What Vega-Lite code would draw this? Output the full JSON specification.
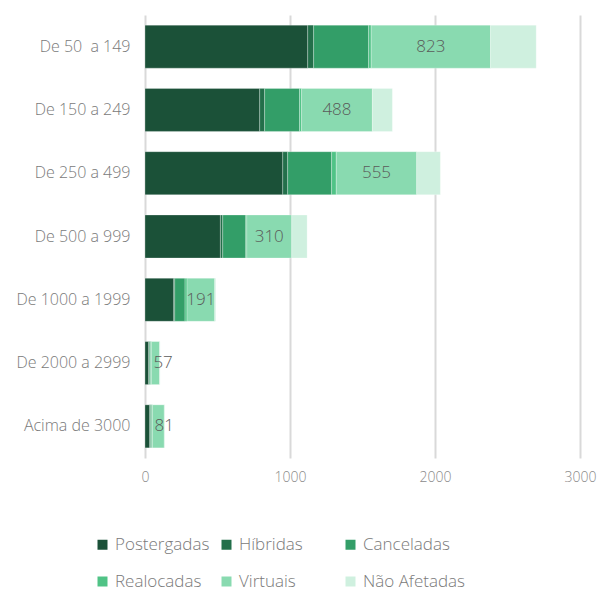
{
  "$schema": "https://vega.github.io/schema/vega-lite/v6.json",
  "width": 435,
  "height": 443,
  "autosize": {"type": "none"},
  "padding": {"left": 145, "top": 15, "right": 20, "bottom": 132},
  "background": "white",
  "config": {
    "view": {"stroke": null},
    "font": "Open Sans"
  },
  "data": {
    "values": [
      {"cat": "De 50\u00a0 a 149", "tipo": "Postergadas", "v": 1122},
      {"cat": "De 50\u00a0 a 149", "tipo": "Híbridas", "v": 41},
      {"cat": "De 50\u00a0 a 149", "tipo": "Canceladas", "v": 379},
      {"cat": "De 50\u00a0 a 149", "tipo": "Realocadas", "v": 18},
      {"cat": "De 50\u00a0 a 149", "tipo": "Virtuais", "v": 823},
      {"cat": "De 50\u00a0 a 149", "tipo": "Não Afetadas", "v": 315},
      {"cat": "De 150 a 249", "tipo": "Postergadas", "v": 791},
      {"cat": "De 150 a 249", "tipo": "Híbridas", "v": 34},
      {"cat": "De 150 a 249", "tipo": "Canceladas", "v": 241},
      {"cat": "De 150 a 249", "tipo": "Realocadas", "v": 14},
      {"cat": "De 150 a 249", "tipo": "Virtuais", "v": 488},
      {"cat": "De 150 a 249", "tipo": "Não Afetadas", "v": 138},
      {"cat": "De 250 a 499", "tipo": "Postergadas", "v": 950},
      {"cat": "De 250 a 499", "tipo": "Híbridas", "v": 34},
      {"cat": "De 250 a 499", "tipo": "Canceladas", "v": 303},
      {"cat": "De 250 a 499", "tipo": "Realocadas", "v": 32},
      {"cat": "De 250 a 499", "tipo": "Virtuais", "v": 555},
      {"cat": "De 250 a 499", "tipo": "Não Afetadas", "v": 163},
      {"cat": "De 500 a 999", "tipo": "Postergadas", "v": 520},
      {"cat": "De 500 a 999", "tipo": "Híbridas", "v": 16},
      {"cat": "De 500 a 999", "tipo": "Canceladas", "v": 159},
      {"cat": "De 500 a 999", "tipo": "Realocadas", "v": 7},
      {"cat": "De 500 a 999", "tipo": "Virtuais", "v": 310},
      {"cat": "De 500 a 999", "tipo": "Não Afetadas", "v": 106},
      {"cat": "De 1000 a 1999", "tipo": "Postergadas", "v": 198},
      {"cat": "De 1000 a 1999", "tipo": "Híbridas", "v": 7},
      {"cat": "De 1000 a 1999", "tipo": "Canceladas", "v": 71},
      {"cat": "De 1000 a 1999", "tipo": "Realocadas", "v": 14},
      {"cat": "De 1000 a 1999", "tipo": "Virtuais", "v": 191},
      {"cat": "De 1000 a 1999", "tipo": "Não Afetadas", "v": 7},
      {"cat": "De 2000 a 2999", "tipo": "Postergadas", "v": 25},
      {"cat": "De 2000 a 2999", "tipo": "Híbridas", "v": 5},
      {"cat": "De 2000 a 2999", "tipo": "Canceladas", "v": 8},
      {"cat": "De 2000 a 2999", "tipo": "Realocadas", "v": 6},
      {"cat": "De 2000 a 2999", "tipo": "Virtuais", "v": 57},
      {"cat": "De 2000 a 2999", "tipo": "Não Afetadas", "v": 3},
      {"cat": "Acima de 3000", "tipo": "Postergadas", "v": 32},
      {"cat": "Acima de 3000", "tipo": "Híbridas", "v": 6},
      {"cat": "Acima de 3000", "tipo": "Canceladas", "v": 8},
      {"cat": "Acima de 3000", "tipo": "Realocadas", "v": 6},
      {"cat": "Acima de 3000", "tipo": "Virtuais", "v": 81},
      {"cat": "Acima de 3000", "tipo": "Não Afetadas", "v": 5}
    ]
  },
  "transform": [
    {"calculate": "indexof(['Postergadas','Híbridas','Canceladas','Realocadas','Virtuais','Não Afetadas'], datum.tipo)", "as": "ord"},
    {"stack": "v", "groupby": ["cat"], "sort": [{"field": "ord", "order": "ascending"}], "as": ["x0", "x1"]},
    {"calculate": "(datum.x0 + datum.x1) / 2", "as": "mid"}
  ],
  "encoding": {
    "y": {
      "field": "cat",
      "type": "nominal",
      "sort": null,
      "scale": {"paddingInner": 0.32, "paddingOuter": 0.16},
      "axis": {
        "title": null,
        "domain": false,
        "ticks": false,
        "labelPadding": 15,
        "labelFontSize": 16,
        "labelColor": "#7a7a7a",
        "labelFont": "Open Sans",
        "labelFontWeight": 300
      }
    }
  },
  "layer": [
    {
      "mark": {"type": "bar", "stroke": "white", "strokeWidth": 0.6, "strokeOpacity": 0.45},
      "encoding": {
        "x": {
          "field": "x0",
          "type": "quantitative",
          "scale": {"domain": [0, 3000], "nice": false},
          "axis": {
            "title": null,
            "values": [0, 1000, 2000, 3000],
            "format": "d",
            "labelFlush": false,
            "grid": true,
            "gridColor": "#d9d9d9",
            "gridWidth": 2,
            "domain": false,
            "ticks": false,
            "labelPadding": 12,
            "labelFontSize": 14,
            "labelColor": "#8a8a8a",
            "labelFont": "Open Sans",
            "labelFontWeight": 300
          }
        },
        "x2": {"field": "x1"},
        "color": {
          "field": "tipo",
          "type": "nominal",
          "scale": {
            "domain": ["Postergadas", "Híbridas", "Canceladas", "Realocadas", "Virtuais", "Não Afetadas"],
            "range": ["#1b5138", "#236f4a", "#339e68", "#50c386", "#89dab0", "#cff0df"]
          },
          "legend": {
            "title": null,
            "orient": "none",
            "legendX": -51,
            "legendY": 521,
            "direction": "horizontal",
            "columns": 3,
            "gridAlign": "all",
            "columnPadding": -3,
            "rowPadding": 19,
            "symbolType": "square",
            "symbolSize": 100,
            "symbolStrokeWidth": 0,
            "symbolOffset": 0,
            "labelOffset": 4,
            "labelFontSize": 17,
            "labelColor": "#7a7a7a",
            "labelFont": "Open Sans",
            "labelFontWeight": 300,
            "labelLimit": 200
          }
        }
      }
    },
    {
      "transform": [{"filter": "datum.tipo === 'Virtuais' && datum.v >= 100"}],
      "mark": {"type": "text", "fontSize": 17, "color": "#5a5a5a", "font": "Open Sans", "fontWeight": 300},
      "encoding": {
        "x": {"field": "mid", "type": "quantitative"},
        "text": {"field": "v", "type": "quantitative"}
      }
    },
    {
      "transform": [{"filter": "datum.tipo === 'Virtuais' && datum.v < 100"}],
      "mark": {"type": "text", "align": "left", "dx": 2, "fontSize": 17, "color": "#5a5a5a", "font": "Open Sans", "fontWeight": 300},
      "encoding": {
        "x": {"field": "x0", "type": "quantitative"},
        "text": {"field": "v", "type": "quantitative"}
      }
    }
  ]
}
